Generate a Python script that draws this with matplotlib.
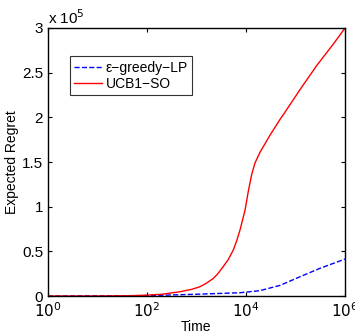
import matplotlib
matplotlib.use("Agg")
import matplotlib.pyplot as plt

# regret values, in units of 1e5
t_ucb = [1, 10, 50, 100, 200, 465, 800, 1175, 1600, 2190, 2700, 3470, 4400,
         5530, 6500, 7570, 8500, 9550, 11100, 13000, 15200, 19200, 30500,
         49000, 56700, 123000, 268000, 580000, 1000000]
r_ucb = [0, 0.0, 0.004, 0.01, 0.02, 0.048, 0.075, 0.104, 0.145, 0.198, 0.25,
         0.33, 0.41, 0.515, 0.62, 0.74, 0.85, 0.96, 1.17, 1.36, 1.49, 1.61,
         1.80, 1.98, 2.03, 2.31, 2.58, 2.82, 3.0]

t_lp = [1, 100, 1000, 7600, 19000, 49000, 123000, 311000, 1000000]
r_lp = [0, 0.005, 0.02, 0.037, 0.06, 0.12, 0.216, 0.31, 0.414]

yticks = [0, 0.5, 1, 1.5, 2, 2.5, 3]
ytick_labels = ["0", "0.5", "1", "1.5", "2", "2.5", "3"]
xticks = [1, 1e2, 1e4, 1e6]
xtick_labels = ["$10^{0}$", "$10^{2}$", "$10^{4}$", "$10^{6}$"]

plt.rcParams["font.family"] = ["Liberation Sans", "DejaVu Sans"]
plt.rcParams["font.size"] = 10

fig = plt.figure(figsize=(3.55, 3.33), dpi=100)
ax = fig.add_axes([0.135, 0.111, 0.837, 0.805])

ax.plot(t_lp, r_lp, "--", color="blue", lw=1.0, label="\u03b5\u2212greedy\u2212LP")
ax.plot(t_ucb, r_ucb, "-", color="red", lw=1.0, label="UCB1\u2212SO")

ax.set_xscale("log")
ax.set_xlim(1, 1e6)
ax.set_ylim(0, 3)
ax.set_xticks(xticks)
ax.set_xticklabels(xtick_labels)
ax.minorticks_off()
ax.set_yticks(yticks)
ax.set_yticklabels(ytick_labels)
ax.tick_params(direction="in", top=True, right=True, length=3, labelsize=11)
for s in ax.spines.values():
    s.set_linewidth(1.0)

ax.text(0.0, 1.005, "x 10$^{5}$", transform=ax.transAxes, fontsize=11,
        ha="left", va="bottom")

ax.set_xlabel("Time", fontsize=10, labelpad=0)
ax.set_ylabel("Expected Regret", fontsize=10, labelpad=2)

leg = ax.legend(loc="upper left", bbox_to_anchor=(0.05, 0.92), fontsize=10,
                frameon=True, fancybox=False, edgecolor="black",
                handlelength=2.0, borderpad=0.3, labelspacing=0.2,
                handletextpad=0.3)
leg.get_frame().set_linewidth(0.8)

fig.savefig("out.png", dpi=100)
